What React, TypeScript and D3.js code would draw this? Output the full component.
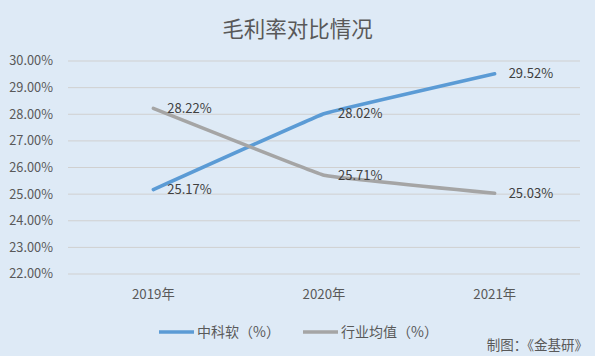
import React from "react";
import * as d3 from "d3";

const categories = ["2019年", "2020年", "2021年"];
const seriesNames = ["中科软（%）", "行业均值（%）"];
const zks = [25.17, 28.02, 29.52];
const industry = [28.22, 25.71, 25.03];
const yTicks = [22, 23, 24, 25, 26, 27, 28, 29, 30];
const title = "毛利率对比情况";
const source = "制图：《金基研》";

const W = 595, H = 356;
const colors = ["#5b9bd5", "#a5a5a5"];
const font = "'Noto Sans CJK SC', 'Noto Sans', sans-serif";

export default function App() {
  const x = d3.scaleBand().domain(categories).range([68, 580]);
  const y = d3.scaleLinear().domain([22, 30]).range([274, 61]);
  const cx = (c: string) => (x(c) as number) + x.bandwidth() / 2;
  const line = d3
    .line<number>()
    .x((_, i) => cx(categories[i]))
    .y((d) => y(d))
    .curve(d3.curveCardinal.tension(0.85));
  const series = [zks, industry];
  return (
    <svg width={W} height={H} style={{ position: "absolute", left: 0, top: 0 }} fontFamily={font}>
      <rect x={0} y={0} width={W} height={H} fill="#deeaf6" />
      <text x={W / 2} y={37} textAnchor="middle" fontSize={21.5} fill="#595959">{title}</text>
      {yTicks.map((t) => (
        <g key={t}>
          <line x1={68} x2={580} y1={y(t)} y2={y(t)} stroke="#d0d0d0" strokeWidth={1} />
          <text x={53} y={y(t)} dy="0.35em" textAnchor="end" fontSize={12.8} fill="#595959">
            {t.toFixed(2)}%
          </text>
        </g>
      ))}
      {categories.map((c) => (
        <text key={c} x={cx(c)} y={299} textAnchor="middle" fontSize={13.3} fill="#595959">{c}</text>
      ))}
      {series.map((s, k) => (
        <path key={k} d={line(s) as string} fill="none" stroke={colors[k]} strokeWidth={3.5} strokeLinecap="round" strokeLinejoin="round" />
      ))}
      {series.map((s, k) =>
        s.map((v, i) => (
          <text key={k + "-" + i} x={cx(categories[i]) + 14} y={y(v)} dy="0.35em" fontSize={13} fill="#404040">
            {v.toFixed(2)}%
          </text>
        ))
      )}
      {seriesNames.map((n, k) => {
        const lx = k === 0 ? 159 : 303;
        return (
          <g key={n}>
            <line x1={lx} x2={lx + 35} y1={332} y2={332} stroke={colors[k]} strokeWidth={3.5} />
            <text x={lx + 38} y={332} dy="0.35em" fontSize={14} fill="#595959">{n}</text>
          </g>
        );
      })}
      <text x={588} y={345.5} dy="0.35em" textAnchor="end" fontSize={13.5} fill="#595959">{source}</text>
    </svg>
  );
}
